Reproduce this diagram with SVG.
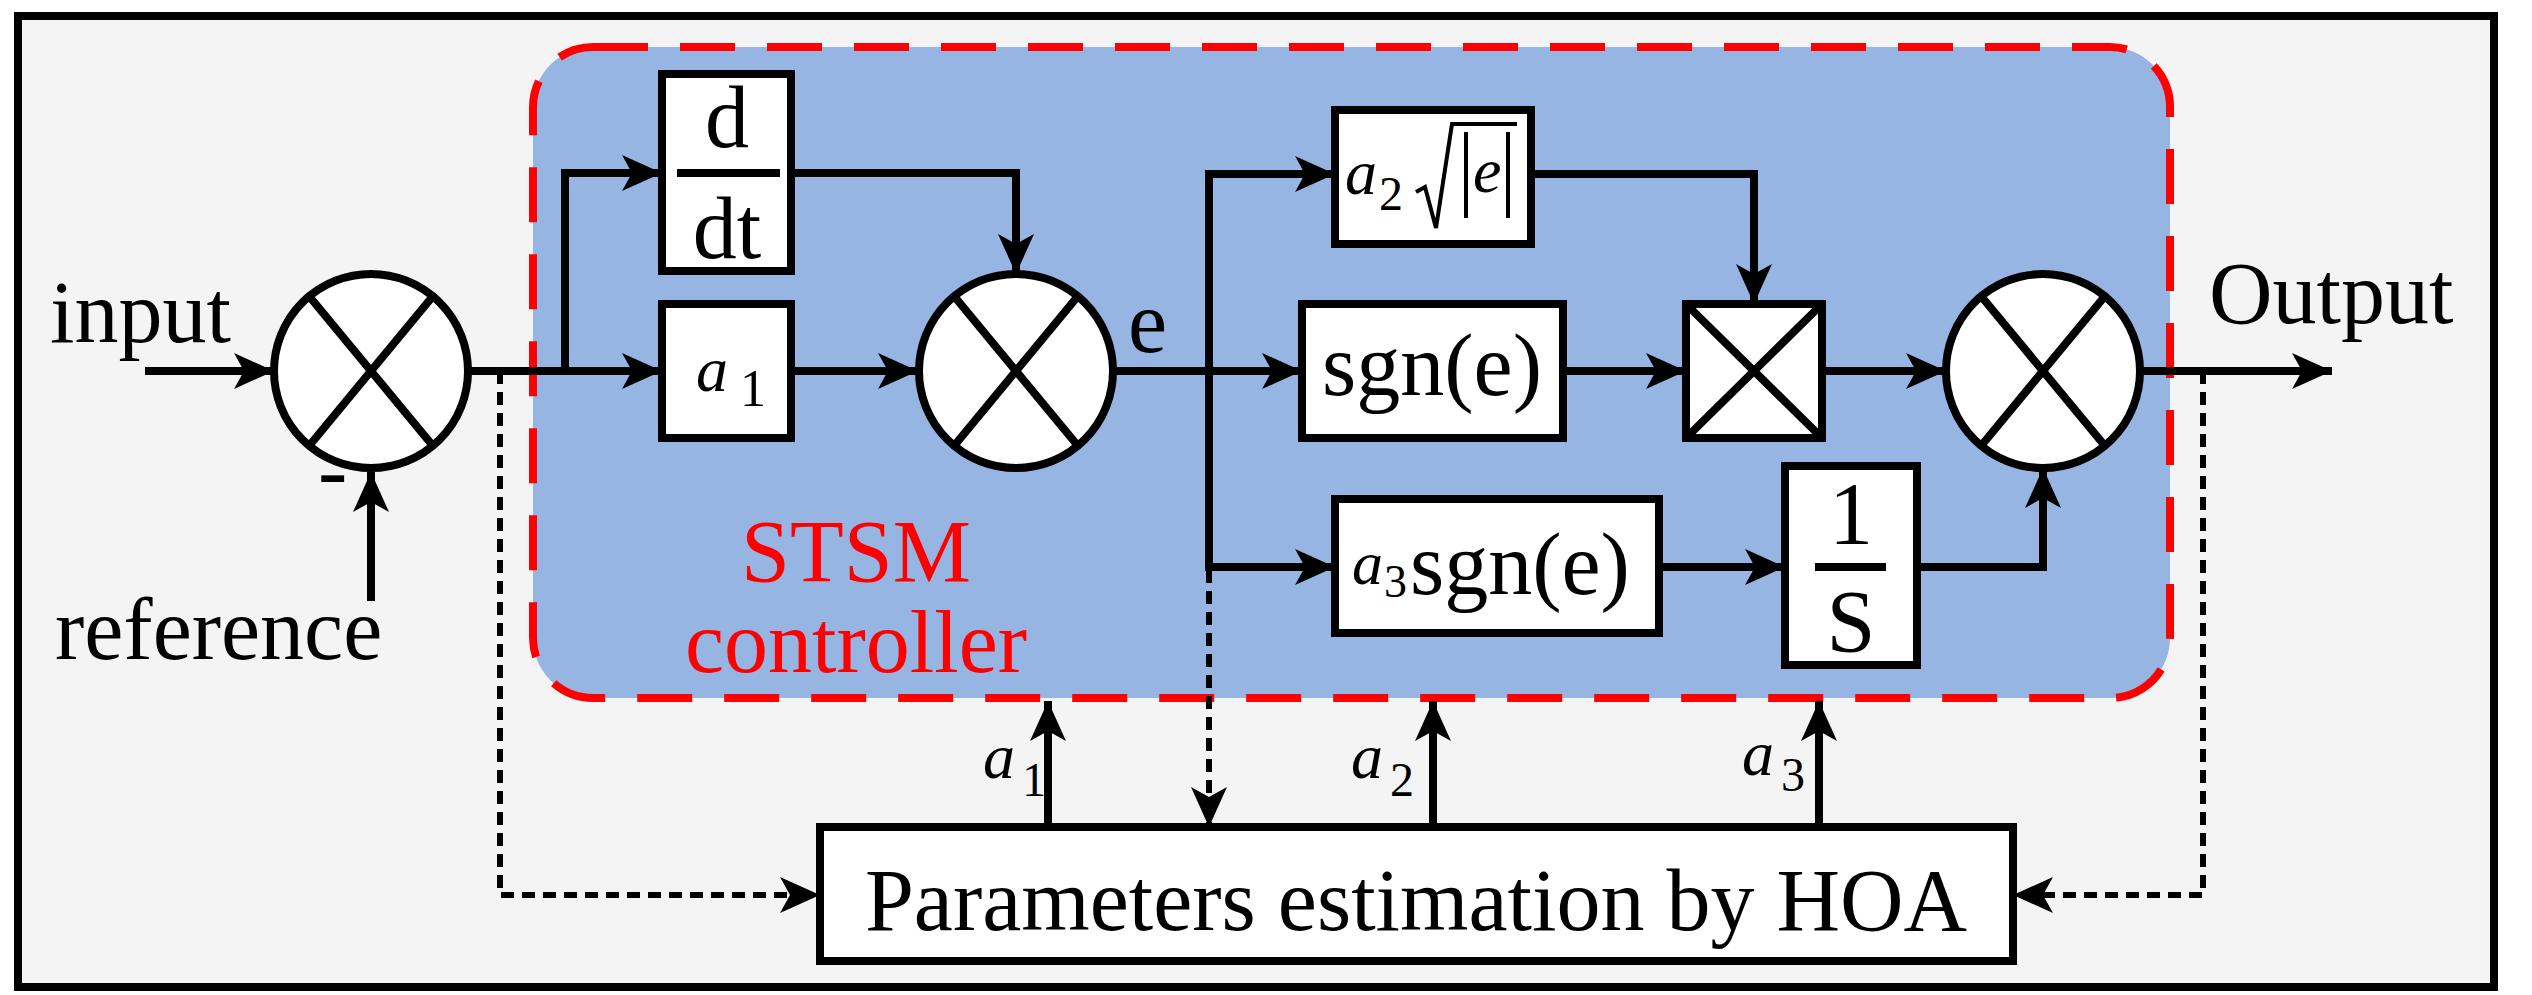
<svg xmlns="http://www.w3.org/2000/svg" width="2532" height="995" viewBox="0 0 2532 995">
<style>
.ln{fill:none;stroke:#000;stroke-width:8}
.dot{fill:none;stroke:#000;stroke-width:6;stroke-dasharray:13 8}
.bx{fill:#fff;stroke:#000;stroke-width:8}
.t{font-family:"Liberation Serif",serif;font-size:88px;fill:#000}
.it{font-family:"Liberation Serif",serif;font-style:italic;fill:#000}
.sb{font-family:"Liberation Serif",serif;fill:#000}
</style>
<defs>
<marker id="ar" markerUnits="userSpaceOnUse" viewBox="0 0 40 36" refX="40" refY="18" markerWidth="40" markerHeight="36" orient="auto">
<path d="M0,0 L40,18 L0,36 L10,18 z" fill="#000"/>
</marker>
</defs>
<rect x="18" y="16" width="2476" height="971" fill="#f4f4f4" stroke="#000" stroke-width="8"/>
<g id="stsm">
<rect x="533" y="47" width="1637" height="651" rx="60" fill="#97b5e3" stroke="#ff0000" stroke-width="8" stroke-dasharray="55 32"/>
<text x="856" y="581" text-anchor="middle" style="font-family:'Liberation Serif',serif;font-size:88px;fill:#ff0000">STSM</text>
<text x="856" y="672" text-anchor="middle" style="font-family:'Liberation Serif',serif;font-size:88px;fill:#ff0000">controller</text>
</g>
<g id="connectors">
<line class="ln" x1="145" y1="371" x2="274" y2="371" marker-end="url(#ar)"/>
<line class="ln" x1="371" y1="601" x2="371" y2="472" marker-end="url(#ar)"/>
<line class="ln" x1="468" y1="371" x2="662" y2="371" marker-end="url(#ar)"/>
<polyline class="ln" points="565,371 565,173 662,173" marker-end="url(#ar)"/>
<line class="ln" x1="791" y1="371" x2="918" y2="371" marker-end="url(#ar)"/>
<polyline class="ln" points="791,173 1016,173 1016,274" marker-end="url(#ar)"/>
<line class="ln" x1="1113" y1="371" x2="1302" y2="371" marker-end="url(#ar)"/>
<polyline class="ln" points="1335,174 1209,174 1209,567 1335,567"/>
<line class="ln" x1="1260" y1="174" x2="1335" y2="174" marker-end="url(#ar)"/>
<line class="ln" x1="1260" y1="567" x2="1335" y2="567" marker-end="url(#ar)"/>
<line class="ln" x1="1563" y1="371" x2="1686" y2="371" marker-end="url(#ar)"/>
<polyline class="ln" points="1531,174 1754,174 1754,304" marker-end="url(#ar)"/>
<line class="ln" x1="1822" y1="371" x2="1946" y2="371" marker-end="url(#ar)"/>
<line class="ln" x1="1659" y1="567" x2="1785" y2="567" marker-end="url(#ar)"/>
<polyline class="ln" points="1917,567 2043,567 2043,468" marker-end="url(#ar)"/>
<line class="ln" x1="2140" y1="371" x2="2332" y2="371" marker-end="url(#ar)"/>
<line class="dot" x1="1209" y1="570" x2="1209" y2="827" marker-end="url(#ar)"/>
<polyline class="dot" points="500,371 500,895 820,895" marker-end="url(#ar)"/>
<polyline class="dot" points="2203,371 2203,895 2013,895" marker-end="url(#ar)"/>
<line class="ln" x1="1048" y1="827" x2="1048" y2="701" marker-end="url(#ar)"/>
<line class="ln" x1="1433" y1="827" x2="1433" y2="701" marker-end="url(#ar)"/>
<line class="ln" x1="1819" y1="827" x2="1819" y2="701" marker-end="url(#ar)"/>
</g>
<g id="sum1">
<circle class="bx" cx="371" cy="371" r="97"/>
<path class="ln" d="M309,296 L433,446 M433,296 L309,446"/>
</g>
<g id="sum2">
<circle class="bx" cx="1016" cy="371" r="97"/>
<path class="ln" d="M954,296 L1078,446 M1078,296 L954,446"/>
</g>
<g id="sum3">
<circle class="bx" cx="2043" cy="371" r="97"/>
<path class="ln" d="M1981,296 L2105,446 M2105,296 L1981,446"/>
</g>
<g id="ddt">
<rect class="bx" x="662" y="74" width="129" height="197"/>
<line class="ln" x1="677" y1="173" x2="780" y2="173"/>
<text class="t" x="727" y="147" text-anchor="middle">d</text>
<text class="t" x="727" y="258" text-anchor="middle">dt</text>
</g>
<g id="a1box">
<rect class="bx" x="662" y="304" width="129" height="134"/>
<text class="it" x="696" y="391" font-size="64">a</text>
<text class="sb" x="740" y="406" font-size="52">1</text>
</g>
<g id="sqrtbox">
<rect class="bx" x="1335" y="110" width="196" height="134"/>
<text class="it" x="1345" y="194" font-size="64">a</text>
<text class="sb" x="1379" y="210" font-size="48">2</text>
<polyline fill="none" stroke="#000" stroke-width="4" points="1416,192 1425,187 1436,228 1452,124 1517,124"/>
<line stroke="#000" stroke-width="4" x1="1466" y1="132" x2="1466" y2="218"/>
<line stroke="#000" stroke-width="4" x1="1508" y1="132" x2="1508" y2="218"/>
<text class="it" x="1473" y="192" font-size="64">e</text>
</g>
<g id="sgnbox">
<rect class="bx" x="1302" y="304" width="261" height="134"/>
<text class="t" x="1432" y="395" text-anchor="middle">sgn(e)</text>
</g>
<g id="mult">
<rect class="bx" x="1686" y="304" width="136" height="134"/>
<path class="ln" d="M1690,308 L1818,434 M1818,308 L1690,434"/>
</g>
<g id="a3box">
<rect class="bx" x="1335" y="499" width="324" height="134"/>
<text class="it" x="1352" y="584" font-size="62">a</text>
<text class="sb" x="1384" y="597" font-size="46">3</text>
<text class="t" x="1410" y="594">sgn(e)</text>
</g>
<g id="integ">
<rect class="bx" x="1785" y="466" width="132" height="199"/>
<line class="ln" x1="1815" y1="567" x2="1886" y2="567"/>
<text class="t" x="1851" y="543" text-anchor="middle">1</text>
<text class="t" x="1851" y="651" text-anchor="middle">S</text>
</g>
<g id="hoa">
<rect class="bx" x="820" y="827" width="1193" height="134"/>
<text class="t" x="1416" y="930" text-anchor="middle">Parameters estimation by HOA</text>
</g>
<g id="labels">
<text class="t" x="50" y="342">input</text>
<text class="t" x="55" y="659">reference</text>
<text class="t" x="318" y="500">-</text>
<text class="t" x="1128" y="352">e</text>
<text class="t" x="2209" y="323">Output</text>
<text class="it" x="983" y="778" font-size="64">a</text>
<text class="sb" x="1022" y="796" font-size="48">1</text>
<text class="it" x="1351" y="778" font-size="64">a</text>
<text class="sb" x="1390" y="796" font-size="48">2</text>
<text class="it" x="1742" y="775" font-size="64">a</text>
<text class="sb" x="1781" y="791" font-size="48">3</text>
</g>
</svg>
